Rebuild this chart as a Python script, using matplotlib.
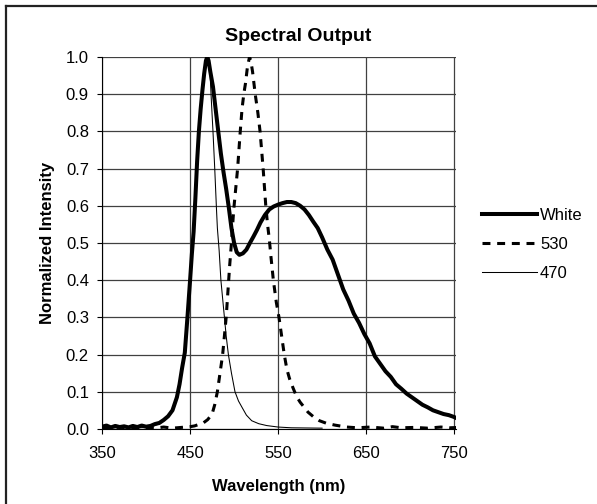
import numpy as np
import matplotlib
matplotlib.use('Agg')
import matplotlib.pyplot as plt
from matplotlib.lines import Line2D

plt.rcParams['font.family'] = ['Liberation Sans', 'DejaVu Sans']

# White LED
wl_white = [350, 355, 360, 365, 370, 375, 380, 385, 390, 395, 400, 405, 410, 415, 420, 425,
            430, 435, 438, 441, 444, 447, 450, 452, 454, 456, 458, 460, 462, 464, 466, 468,
            469.5, 471, 473, 476, 479, 482, 485, 488, 491, 494, 497, 500, 503, 506, 510,
            514, 518, 522, 526, 530, 535, 540, 545, 550, 555, 560, 565, 570, 575, 580, 585,
            590, 595, 600, 606, 612, 618, 624, 630, 636, 642, 648, 654, 660, 666, 672, 678,
            684, 690, 696, 702, 708, 714, 720, 726, 732, 738, 744, 750, 756]
i_white = [0.006, 0.009, 0.004, 0.008, 0.005, 0.007, 0.004, 0.008, 0.005, 0.009, 0.006, 0.008,
           0.013, 0.016, 0.024, 0.034, 0.05, 0.085, 0.12, 0.165, 0.205, 0.3, 0.4, 0.47, 0.53,
           0.62, 0.72, 0.8, 0.86, 0.91, 0.955, 0.99, 1.0, 0.99, 0.96, 0.92, 0.86, 0.8, 0.74,
           0.69, 0.645, 0.595, 0.54, 0.5, 0.475, 0.468, 0.472, 0.482, 0.5, 0.517, 0.535,
           0.555, 0.575, 0.59, 0.598, 0.603, 0.607, 0.61, 0.61, 0.607, 0.6, 0.59, 0.575,
           0.557, 0.54, 0.515, 0.482, 0.455, 0.415, 0.375, 0.345, 0.31, 0.285, 0.255, 0.23,
           0.195, 0.175, 0.155, 0.14, 0.12, 0.108, 0.095, 0.085, 0.075, 0.065, 0.058, 0.05,
           0.045, 0.04, 0.037, 0.032, 0.025]

# 530 nm LED
wl_530 = [350, 360, 370, 380, 390, 400, 410, 420, 430, 440, 445, 450, 455, 460, 465, 470,
          475, 478, 481, 484, 487, 489, 491, 493, 495, 497, 499, 500, 502, 504, 507, 509,
          511, 513, 515, 517.5, 519, 521, 524, 527, 529.5, 533, 536, 538, 540, 542, 544.6,
          548, 551, 554, 557, 560, 563, 567, 571, 575, 579, 584, 590, 597, 605, 615, 628,
          640, 655, 670, 680, 690, 705, 720, 735, 745, 756]
i_530 = [0.004, 0.002, 0.005, 0.002, 0.004, 0.003, 0.002, 0.005, 0.002, 0.004, 0.005, 0.006,
         0.008, 0.012, 0.016, 0.025, 0.04, 0.065, 0.1, 0.15, 0.2, 0.25, 0.3, 0.37, 0.44, 0.5,
         0.57, 0.6, 0.65, 0.7, 0.8, 0.86, 0.9, 0.93, 0.97, 1.0, 0.99, 0.96, 0.9, 0.85, 0.8,
         0.7, 0.6, 0.55, 0.51, 0.46, 0.4, 0.34, 0.3, 0.25, 0.2, 0.16, 0.135, 0.11, 0.087,
         0.072, 0.06, 0.045, 0.033, 0.022, 0.015, 0.01, 0.005, 0.003, 0.005, 0.002, 0.006,
         0.003, 0.004, 0.002, 0.005, 0.003, 0.004]

# 470 nm LED
wl_470 = [350, 370, 390, 405, 410, 415, 420, 425, 430, 435, 438, 441, 444, 447, 450, 452,
          454, 456, 458, 460, 462, 464, 466, 468, 469.5, 471, 472.7, 474, 476, 478, 480,
          481, 483, 485, 487, 489, 491, 493.5, 497, 501, 505, 509, 514, 520, 528, 537, 550,
          565, 600]
i_470 = [0.003, 0.003, 0.003, 0.004, 0.01, 0.013, 0.022, 0.032, 0.047, 0.08, 0.115, 0.16,
         0.2, 0.29, 0.39, 0.46, 0.52, 0.61, 0.71, 0.79, 0.85, 0.905, 0.95, 0.985, 1.0, 0.985,
         0.955, 0.89, 0.8, 0.7, 0.59, 0.54, 0.48, 0.4, 0.35, 0.3, 0.25, 0.2, 0.15, 0.1,
         0.075, 0.058, 0.037, 0.022, 0.014, 0.009, 0.005, 0.003, 0.002]

fig = plt.figure(figsize=(5.97, 5.04), dpi=100)
ax = fig.add_axes([0.171, 0.149, 0.5926, 0.738])

ax.plot(wl_white, i_white, color='black', lw=2.9, label='White', zorder=4)
ax.plot(wl_530, i_530, color='black', lw=2.2, dashes=(2.6, 2.2), label='530', zorder=3)
ax.plot(wl_470, i_470, color='black', lw=0.75, label='470', zorder=3)

ax.set_xlim(350, 752)
ax.set_ylim(0, 1.0)
ax.set_xticks([350, 450, 550, 650, 750])
ax.set_yticks(np.arange(0, 1.01, 0.1))
ax.set_yticklabels(['%.1f' % v for v in np.arange(0, 1.01, 0.1)])
ax.grid(True, color='#404040', lw=0.9)
ax.set_axisbelow(True)
ax.spines['top'].set_visible(False)
ax.spines['right'].set_visible(False)
ax.tick_params(direction='out', length=3.5, labelsize=12, color='black')
ax.tick_params(axis='x', pad=8.5)
ax.tick_params(axis='y', pad=6)

fig.text(0.5, 1 - 41 / 504, 'Spectral Output', fontsize=14, fontweight='bold',
         ha='center', va='baseline')
ax.set_xlabel('Wavelength (nm)', fontsize=12, fontweight='bold', labelpad=13)
ax.set_ylabel('Normalized Intensity', fontsize=12, fontweight='bold', labelpad=8)

ax.legend(loc='center left', bbox_to_anchor=(0.783, 0.515), bbox_transform=fig.transFigure,
          frameon=False, fontsize=12, handlelength=3.3, handletextpad=0.15,
          labelspacing=0.85)

# partial border of the chart area (left and top)
fig.add_artist(Line2D([0.0105, 0.0105], [0, 0.988], transform=fig.transFigure,
                      color='#222222', lw=1.6))
fig.add_artist(Line2D([0.0105, 1.0], [0.988, 0.988], transform=fig.transFigure,
                      color='#222222', lw=1.6))

fig.savefig('out.png', dpi=100)
